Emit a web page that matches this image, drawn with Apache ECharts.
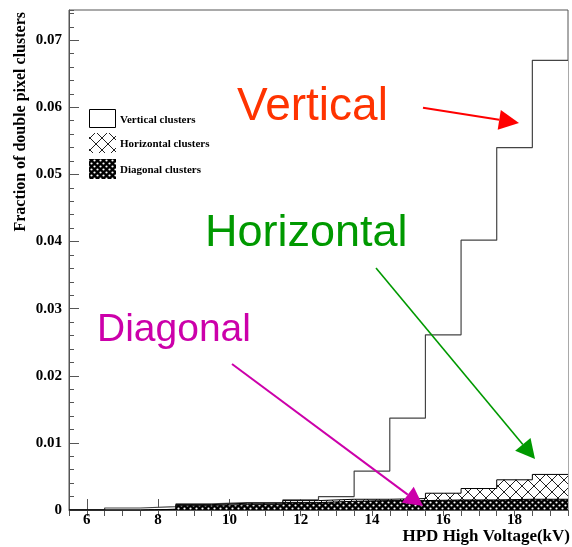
<!DOCTYPE html>
<html><head><meta charset="utf-8">
<script src="https://cdn.jsdelivr.net/npm/echarts@6/dist/echarts.min.js"></script>
<style>html,body{margin:0;padding:0;background:#fff}#c{width:572px;height:547px}</style>
</head><body><div id="c"></div>
<script>
// ---- data (bin centres in kV, fraction of double pixel clusters) ----
const binCenters = [6, 7, 8, 9, 10, 11, 12, 13, 14, 15, 16, 17, 18, 19];
const verticalClusters   = [0, 0.0003, 0.0005, 0.0009, 0.0011, 0.0011, 0.0015, 0.0020, 0.0058, 0.0137, 0.0261, 0.0402, 0.0540, 0.0670];
const horizontalClusters = [0, 0, 0.0001, 0.0008, 0.0010, 0.0010, 0.0014, 0.0016, 0.0016, 0.0017, 0.0025, 0.0032, 0.0045, 0.0053];
const diagonalClusters   = [0, 0, 0.0001, 0.0007, 0.0008, 0.0008, 0.0011, 0.0013, 0.0014, 0.0014, 0.0015, 0.0015, 0.0016, 0.0016];
const xTickLabels = [6, 8, 10, 12, 14, 16, 18];
const yTickLabels = [0, 0.01, 0.02, 0.03, 0.04, 0.05, 0.06, 0.07];

function stepData(arr) {
  const d = binCenters.map((c, i) => [c - 0.5, arr[i]]);
  d.push([binCenters[binCenters.length - 1] + 0.5, arr[arr.length - 1]]);
  return d;
}
function crossPattern() {
  const c = document.createElement('canvas'); c.width = 12; c.height = 12;
  const g = c.getContext('2d');
  g.fillStyle = '#fff'; g.fillRect(0, 0, 12, 12);
  g.strokeStyle = '#222'; g.lineWidth = 1;
  g.beginPath(); g.moveTo(0, 0); g.lineTo(12, 12); g.moveTo(12, 0); g.lineTo(0, 12); g.stroke();
  return c;
}
function dotPattern() {
  const c = document.createElement('canvas'); c.width = 6; c.height = 6;
  const g = c.getContext('2d');
  g.fillStyle = '#000'; g.fillRect(0, 0, 6, 6);
  g.fillStyle = '#fff';
  g.beginPath(); g.arc(1.5, 1.5, 1.1, 0, Math.PI * 2); g.fill();
  g.beginPath(); g.arc(4.5, 4.5, 1.1, 0, Math.PI * 2); g.fill();
  return c;
}
const crossFill = { image: crossPattern(), repeat: 'repeat' };
const dotFill = { image: dotPattern(), repeat: 'repeat' };

function arrow(x1, y1, x2, y2, len, hw, color, w) {
  const dx = x2 - x1, dy = y2 - y1, L = Math.hypot(dx, dy), ux = dx / L, uy = dy / L;
  const bx = x2 - ux * len, by = y2 - uy * len;
  return [
    { type: 'line', shape: { x1: x1, y1: y1, x2: bx, y2: by }, style: { stroke: color, lineWidth: w }, z: 100 },
    { type: 'polygon', shape: { points: [[x2, y2], [bx - uy * hw, by + ux * hw], [bx + uy * hw, by - ux * hw]] }, style: { fill: color }, z: 100 }
  ];
}

const serif = 'Liberation Serif';
const chart = echarts.init(document.getElementById('c'));
const option = {
  animation: false,
  backgroundColor: '#fff',
  grid: { left: 69, right: 4, top: 10, bottom: 37, show: true, borderColor: '#555', borderWidth: 1, backgroundColor: 'transparent' },
  xAxis: [
    { type: 'value', min: 5.5, max: 19.5, splitLine: { show: false },
      axisLine: { onZero: false, lineStyle: { color: '#555' } },
      axisTick: { inside: true, length: 11, customValues: xTickLabels, lineStyle: { color: '#555' } },
      axisLabel: { customValues: xTickLabels, margin: 3, color: '#000', fontFamily: serif, fontWeight: 'bold', fontSize: 15 } },
    { type: 'value', min: 5.5, max: 19.5, interval: 0.5, splitLine: { show: false },
      axisLine: { show: false }, axisLabel: { show: false },
      axisTick: { inside: true, length: 6, lineStyle: { color: '#555' } } }
  ],
  yAxis: [
    { type: 'value', min: 0, max: 0.0745, splitLine: { show: false },
      axisLine: { show: true, lineStyle: { color: '#555' } },
      axisTick: { inside: true, length: 10, customValues: yTickLabels, lineStyle: { color: '#555' } },
      axisLabel: { customValues: yTickLabels, margin: 7, color: '#000', fontFamily: serif, fontWeight: 'bold', fontSize: 15,
        formatter: v => { const k = Math.round(v * 100); return k === 0 ? '0' : (k / 100).toFixed(2); } } },
    { type: 'value', min: 0, max: 0.0745, interval: 0.002, position: 'left', splitLine: { show: false },
      axisLine: { show: false }, axisLabel: { show: false },
      axisTick: { inside: true, length: 5, lineStyle: { color: '#555' } } }
  ],
  series: [
    { name: 'Vertical clusters', type: 'line', step: 'end', symbol: 'none', data: stepData(verticalClusters), z: 2,
      lineStyle: { color: '#444', width: 1.2 }, areaStyle: { color: '#fff', opacity: 1 } },
    { name: 'Horizontal clusters', type: 'line', step: 'end', symbol: 'none', data: stepData(horizontalClusters), z: 3,
      lineStyle: { color: '#000', width: 1 }, areaStyle: { color: crossFill, opacity: 1 } },
    { name: 'Diagonal clusters', type: 'line', step: 'end', symbol: 'none', data: stepData(diagonalClusters), z: 4,
      lineStyle: { color: '#000', width: 1 }, areaStyle: { color: dotFill, opacity: 1 } }
  ],
  graphic: [
    // y axis title
    { type: 'text', x: 21, y: 12, rotation: Math.PI / 2,
      style: { text: 'Fraction of double pixel clusters', font: 'bold 16px "Liberation Serif"', fill: '#000', align: 'right', verticalAlign: 'middle' } },
    // x axis title
    { type: 'text', x: 570, y: 537,
      style: { text: 'HPD High Voltage(kV)', font: 'bold 17px "Liberation Serif"', fill: '#000', align: 'right', verticalAlign: 'middle' } },
    // legend
    { type: 'rect', shape: { x: 89.5, y: 109.5, width: 26, height: 18 }, style: { fill: '#fff', stroke: '#000', lineWidth: 1 } },
    { type: 'rect', shape: { x: 89, y: 133, width: 27, height: 20 }, style: { fill: crossFill } },
    { type: 'rect', shape: { x: 89, y: 159, width: 27, height: 20 }, style: { fill: dotFill } },
    { type: 'text', x: 120, y: 120, style: { text: 'Vertical clusters', font: 'bold 11px "Liberation Serif"', fill: '#000', verticalAlign: 'middle' } },
    { type: 'text', x: 120, y: 144, style: { text: 'Horizontal clusters', font: 'bold 11px "Liberation Serif"', fill: '#000', verticalAlign: 'middle' } },
    { type: 'text', x: 120, y: 170, style: { text: 'Diagonal clusters', font: 'bold 11px "Liberation Serif"', fill: '#000', verticalAlign: 'middle' } },
    // annotations
    { type: 'text', x: 237, y: 84, z: 100, style: { text: 'Vertical', font: '46px "Liberation Sans"', fill: '#ff3300', verticalAlign: 'top' } },
    { type: 'text', x: 205, y: 211, z: 100, style: { text: 'Horizontal', font: '45px "Liberation Sans"', fill: '#009900', verticalAlign: 'top' } },
    { type: 'text', x: 97, y: 311, z: 100, style: { text: 'Diagonal', font: '39px "Liberation Sans"', fill: '#cc00aa', verticalAlign: 'top' } },
    ...arrow(423, 107.7, 519, 123, 20, 10, '#ff0000', 2),
    ...arrow(376, 268, 535, 459, 19, 10, '#009900', 1.6),
    ...arrow(232, 364, 423, 506, 19, 10, '#cc00aa', 2)
  ]
};
chart.setOption(option);
</script></body></html>
